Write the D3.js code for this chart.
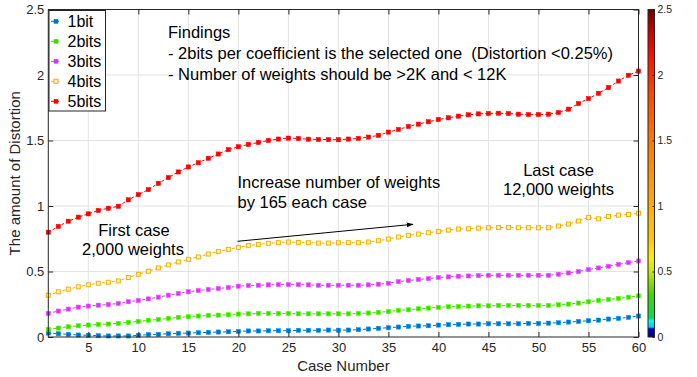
<!DOCTYPE html>
<html>
<head>
<meta charset="utf-8">
<script src="https://cdn.jsdelivr.net/npm/d3@7"></script>
<style>
  html, body { margin: 0; padding: 0; background: #fff; }
  svg { display: block; font-family: "Liberation Sans", Arial, Helvetica, sans-serif; }
  svg text { white-space: pre; }
</style>
</head>
<body>
<svg id="chart" width="697" height="377"></svg>
<script>
// Case numbers on the x axis
const caseNumbers = d3.range(1, 61);

// Distortion per case for each bit width
const dist1bit = [0.030,0.025,0.020,0.015,0.013,0.010,0.008,0.008,0.008,0.013,
  0.018,0.020,0.025,0.028,0.030,0.033,0.035,0.038,0.040,0.043,
  0.046,0.046,0.048,0.048,0.048,0.051,0.051,0.051,0.053,0.052,
  0.053,0.056,0.061,0.066,0.071,0.076,0.081,0.084,0.086,0.091,
  0.094,0.096,0.099,0.099,0.101,0.101,0.101,0.101,0.104,0.104,
  0.106,0.109,0.114,0.119,0.124,0.129,0.137,0.142,0.150,0.160];

const dist2bits = [0.058,0.068,0.078,0.086,0.091,0.096,0.099,0.104,0.112,0.119,
  0.127,0.134,0.142,0.150,0.155,0.160,0.165,0.167,0.170,0.175,
  0.177,0.180,0.180,0.180,0.180,0.177,0.177,0.177,0.177,0.177,
  0.177,0.180,0.183,0.188,0.195,0.203,0.208,0.215,0.221,0.226,
  0.231,0.233,0.236,0.238,0.238,0.241,0.241,0.241,0.241,0.241,
  0.241,0.246,0.251,0.259,0.269,0.279,0.287,0.294,0.304,0.314];

const dist3bits = [0.180,0.198,0.213,0.228,0.236,0.243,0.248,0.256,0.269,0.279,
  0.291,0.304,0.319,0.332,0.345,0.355,0.363,0.370,0.378,0.388,
  0.393,0.395,0.398,0.400,0.400,0.400,0.398,0.395,0.395,0.395,
  0.395,0.395,0.398,0.403,0.410,0.423,0.431,0.439,0.446,0.454,
  0.459,0.464,0.466,0.469,0.471,0.471,0.471,0.471,0.471,0.471,
  0.471,0.479,0.489,0.500,0.515,0.527,0.540,0.555,0.568,0.580];

const dist4bits = [0.319,0.345,0.365,0.383,0.398,0.410,0.418,0.428,0.454,0.479,
  0.502,0.527,0.550,0.573,0.593,0.611,0.633,0.652,0.669,0.684,
  0.697,0.707,0.715,0.720,0.725,0.722,0.720,0.717,0.717,0.719,
  0.720,0.720,0.725,0.735,0.748,0.763,0.776,0.786,0.796,0.806,
  0.816,0.824,0.826,0.831,0.834,0.836,0.836,0.834,0.834,0.834,
  0.834,0.847,0.862,0.885,0.913,0.902,0.920,0.930,0.935,0.945];

const dist5bits = [0.800,0.844,0.884,0.915,0.940,0.966,0.983,0.998,1.047,1.087,
  1.125,1.173,1.217,1.260,1.298,1.330,1.364,1.397,1.430,1.452,
  1.470,1.485,1.500,1.511,1.518,1.515,1.510,1.508,1.507,1.506,
  1.511,1.516,1.526,1.539,1.564,1.584,1.607,1.625,1.643,1.660,
  1.673,1.686,1.696,1.703,1.706,1.708,1.706,1.701,1.698,1.698,
  1.701,1.713,1.739,1.782,1.820,1.860,1.904,1.954,1.998,2.030];

const seriesNames = ["1bit", "2bits", "3bits", "4bits", "5bits"];
const seriesValues = [dist1bit, dist2bits, dist3bits, dist4bits, dist5bits];
const seriesColors = ["#0072bd", "#3ddc00", "#c93cff", "#f2b200", "#ff0000"];

const xTicks = [5, 10, 15, 20, 25, 30, 35, 40, 45, 50, 55, 60];
const yTicks = [0, 0.5, 1, 1.5, 2, 2.5];
const yTickLabels = ["0", "0.5", "1", "1.5", "2", "2.5"];
const colorbarTicks = [0, 0.5, 1, 1.5, 2, 2.5];

const findingsLines = [
  "Findings",
  "- 2bits per coefficient is the selected one  (Distortion <0.25%)",
  "- Number of weights should be >2K and < 12K"
];

const axisColor = "#262626";
const svg = d3.select("#chart");

const pLeft = 48.3, pRight = 638.5, pTop = 9.5, pBottom = 337;
const x = d3.scaleLinear().domain([1, 60]).range([pLeft, pRight]);
const y = d3.scaleLinear().domain([0, 2.5]).range([pBottom, pTop]);

// Grid
const grid = svg.append("g");
grid.selectAll("line.gx").data(xTicks).join("line")
  .attr("x1", d => x(d)).attr("x2", d => x(d))
  .attr("y1", pTop).attr("y2", pBottom)
  .attr("stroke", "#e3e3e3").attr("stroke-width", 1);
grid.selectAll("line.gy").data(yTicks.slice(1, -1)).join("line")
  .attr("x1", pLeft).attr("x2", pRight)
  .attr("y1", d => y(d)).attr("y2", d => y(d))
  .attr("stroke", "#e3e3e3").attr("stroke-width", 1);

// Series: dashed lines with square markers
const line = d3.line().x((d, i) => x(caseNumbers[i])).y(d => y(d));
seriesValues.forEach((vals, k) => {
  const g = svg.append("g");
  g.append("path").datum(vals)
    .attr("d", line)
    .attr("fill", "none")
    .attr("stroke", seriesColors[k])
    .attr("stroke-width", 1)
    .attr("stroke-dasharray", "3,2");
  const hollow = k === 3;
  const s = hollow ? 4 : 4.2;
  g.selectAll("rect").data(vals).join("rect")
    .attr("x", (d, i) => x(caseNumbers[i]) - s / 2)
    .attr("y", d => y(d) - s / 2)
    .attr("width", s).attr("height", s)
    .attr("fill", hollow ? "#fff6c8" : seriesColors[k])
    .attr("stroke", hollow ? seriesColors[k] : d3.color(seriesColors[k]).brighter(0.8))
    .attr("stroke-width", hollow ? 1 : 0.5);
});

// Axes
const ax = svg.append("g").attr("color", axisColor);
const xAxis = ax.append("g").attr("transform", `translate(0,${pBottom})`)
  .call(d3.axisBottom(x).tickValues(xTicks).tickSize(-5).tickPadding(6));
const yAxis = ax.append("g").attr("transform", `translate(${pLeft},0)`)
  .call(d3.axisLeft(y).tickValues(yTicks).tickSize(-5).tickPadding(4)
    .tickFormat((d, i) => yTickLabels[i]));
const xTopAxis = ax.append("g").attr("transform", `translate(0,${pTop})`)
  .call(d3.axisTop(x).tickValues(xTicks).tickSize(-5).tickFormat(""));
const yRightAxis = ax.append("g").attr("transform", `translate(${pRight},0)`)
  .call(d3.axisRight(y).tickValues(yTicks).tickSize(-5).tickFormat(""));
[xAxis, yAxis, xTopAxis, yRightAxis].forEach(a => {
  a.select(".domain").remove();
  a.selectAll("text").attr("font-size", 13).attr("fill", axisColor)
    .attr("font-family", "'Liberation Sans', Arial, sans-serif");
  a.selectAll(".tick line").attr("stroke", axisColor);
});
ax.append("rect")
  .attr("x", pLeft).attr("y", pTop)
  .attr("width", pRight - pLeft).attr("height", pBottom - pTop)
  .attr("fill", "none").attr("stroke", axisColor).attr("stroke-width", 1);

// Axis titles
svg.append("text")
  .attr("x", (pLeft + pRight) / 2).attr("y", 371)
  .attr("text-anchor", "middle").attr("font-size", 15).attr("fill", axisColor)
  .text("Case Number");
svg.append("text")
  .attr("transform", `translate(20,${(pTop + pBottom) / 2}) rotate(-90)`)
  .attr("text-anchor", "middle").attr("font-size", 15).attr("fill", axisColor)
  .text("The amount of Distortion");

// Legend
const legend = svg.append("g");
legend.append("rect")
  .attr("x", 49).attr("y", 10.5).attr("width", 56.5).attr("height", 100.5)
  .attr("fill", "#fff").attr("stroke", axisColor).attr("stroke-width", 1);
seriesNames.forEach((name, k) => {
  const cy = 21.3 + k * 20;
  legend.append("line")
    .attr("x1", 51).attr("x2", 61).attr("y1", cy).attr("y2", cy)
    .attr("stroke", seriesColors[k]).attr("stroke-width", 1)
    .attr("stroke-dasharray", "3,2");
  legend.append("rect")
    .attr("x", 54).attr("y", cy - 2).attr("width", 4).attr("height", 4)
    .attr("fill", k === 3 ? "#fff6c8" : seriesColors[k])
    .attr("stroke", seriesColors[k]).attr("stroke-width", k === 3 ? 1 : 0.5);
  legend.append("text")
    .attr("x", 67.5).attr("y", cy + 6)
    .attr("font-size", 16).attr("fill", "#000")
    .text(name);
});

// Annotations
const note = svg.append("g").attr("font-size", 16.5).attr("fill", "#000");
findingsLines.forEach((t, i) => {
  note.append("text").attr("x", 168).attr("y", 38 + i * 21).text(t);
});
note.append("text").attr("x", 134).attr("y", 236).attr("text-anchor", "middle").text("First case");
note.append("text").attr("x", 133).attr("y", 255).attr("text-anchor", "middle").text("2,000 weights");
note.append("text").attr("x", 237.5).attr("y", 188).text("Increase number of weights");
note.append("text").attr("x", 237.5).attr("y", 207.5).text("by 165 each case");
note.append("text").attr("x", 558.5).attr("y", 176).attr("text-anchor", "middle").text("Last case");
note.append("text").attr("x", 558.5).attr("y", 195).attr("text-anchor", "middle").text("12,000 weights");

// Arrow
const defs = svg.append("defs");
defs.append("marker")
  .attr("id", "arrowhead").attr("viewBox", "0 0 10 10")
  .attr("refX", 9).attr("refY", 5)
  .attr("markerWidth", 7).attr("markerHeight", 7)
  .attr("orient", "auto")
  .append("path").attr("d", "M0,1.5L10,5L0,8.5Z").attr("fill", "#000");
svg.append("line")
  .attr("x1", 237.5).attr("y1", 241.3).attr("x2", 413).attr("y2", 224.3)
  .attr("stroke", "#000").attr("stroke-width", 1)
  .attr("marker-end", "url(#arrowhead)");

// Colorbar
const cbX = 648, cbW = 6.5;
const yc = d3.scaleLinear().domain([0, 2.5]).range([pBottom, pTop]);
const grad = defs.append("linearGradient")
  .attr("id", "cbgrad").attr("x1", 0).attr("y1", 1).attr("x2", 0).attr("y2", 0);
const stops = [
  [0, "#000080"], [0.025, "#0000d8"], [0.03, "#00c8ff"], [0.05, "#00ffe0"],
  [0.058, "#00e050"], [0.13, "#44d400"], [0.2, "#c8e800"], [0.24, "#ffee00"],
  [0.3, "#ffc800"], [0.45, "#ffa000"], [0.6, "#ff7800"], [0.75, "#ff4400"],
  [0.85, "#ff1400"], [0.93, "#d00000"], [1, "#6a0000"]
];
stops.forEach(([o, c]) => grad.append("stop").attr("offset", o).attr("stop-color", c));
svg.append("rect")
  .attr("x", cbX).attr("y", pTop).attr("width", cbW).attr("height", pBottom - pTop)
  .attr("fill", "url(#cbgrad)").attr("stroke", axisColor).attr("stroke-width", 1);
const cbAxis = svg.append("g").attr("transform", `translate(${cbX + cbW},0)`)
  .attr("color", axisColor)
  .call(d3.axisRight(yc).tickValues(colorbarTicks).tickSize(-2).tickPadding(3)
    .tickFormat((d, i) => yTickLabels[i]));
cbAxis.select(".domain").remove();
cbAxis.selectAll("text").attr("font-size", 10.5).attr("fill", axisColor)
  .attr("font-family", "'Liberation Sans', Arial, sans-serif");
</script>
</body>
</html>
